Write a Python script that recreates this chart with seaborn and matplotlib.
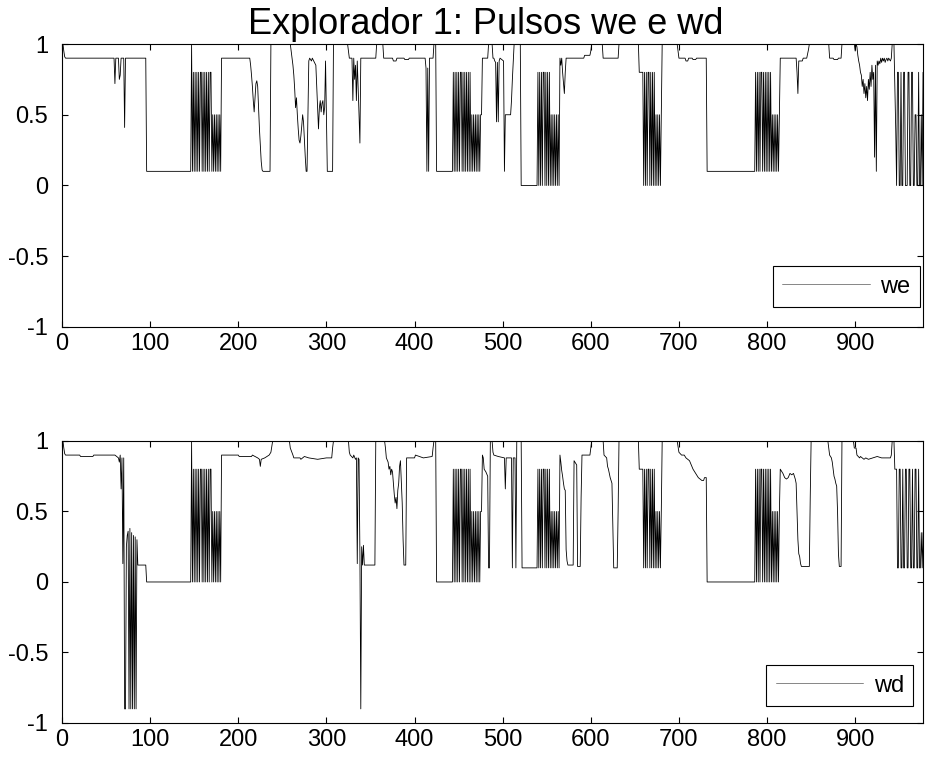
import matplotlib
matplotlib.use("Agg")
import matplotlib.pyplot as plt
import pandas as pd
import seaborn as sns

# (sample, value) breakpoints of the left-wheel pulse signal "we"
we_points = [
    (0, 1.0), (1, 1.0), (2, 0.95), (3, 0.91), (4, 0.9), (59, 0.9), (60, 0.72), (61, 0.9), (64, 0.9),
    (65, 0.75), (66, 0.78), (67, 0.9), (70, 0.9), (71, 0.41), (72, 0.9), (95, 0.9),
    (96, 0.1), (146, 0.1), (147, 1.0),
    (148, 0.1), (149, 0.8), (150, 0.1), (151, 0.8), (152, 0.1), (153, 0.8), (154, 0.1), (155, 0.8),
    (156, 0.1), (157, 0.8), (158, 0.8), (159, 0.1), (160, 0.8), (161, 0.1), (162, 0.8), (163, 0.1),
    (164, 0.8), (165, 0.1), (166, 0.8), (167, 0.1), (168, 0.8), (169, 0.8), (170, 0.1),
    (171, 0.5), (172, 0.1), (173, 0.5), (174, 0.1), (175, 0.5), (176, 0.1), (177, 0.5), (178, 0.1),
    (179, 0.5), (180, 0.1),
    (181, 0.9), (213, 0.9), (214, 0.85), (215, 0.78), (216, 0.7), (217, 0.6), (218, 0.52), (219, 0.62),
    (220, 0.72), (221, 0.74), (222, 0.7), (223, 0.55), (224, 0.4), (225, 0.28), (226, 0.17), (227, 0.11),
    (228, 0.1), (236, 0.1),
    (237, 1.0), (259, 1.0), (260, 0.95), (261, 0.9), (262, 0.85), (263, 0.78), (264, 0.68), (265, 0.55),
    (266, 0.62), (267, 0.5), (268, 0.4), (269, 0.32), (270, 0.3), (271, 0.35), (272, 0.42), (273, 0.5),
    (274, 0.45), (275, 0.32), (276, 0.2), (277, 0.1), (278, 0.1), (279, 0.5), (280, 0.88), (281, 0.9),
    (283, 0.88), (284, 0.9), (288, 0.85), (289, 0.7), (290, 0.55), (291, 0.4), (292, 0.55), (293, 0.6),
    (294, 0.52), (295, 0.58), (296, 0.6), (297, 0.5), (298, 0.55), (299, 0.88), (300, 0.5), (301, 0.1),
    (307, 0.1),
    (308, 1.0), (324, 1.0), (325, 0.95), (326, 0.9), (329, 0.9), (330, 0.6), (331, 0.9), (332, 0.75),
    (333, 0.85), (334, 0.6), (335, 0.88), (336, 0.7), (337, 0.5), (338, 0.3), (339, 0.9), (356, 0.9),
    (357, 1.0), (364, 1.0),
    (365, 0.9), (375, 0.9), (376, 0.88), (379, 0.88), (380, 0.9), (388, 0.9), (389, 0.89), (393, 0.89),
    (394, 0.9), (412, 0.9), (413, 0.83), (414, 0.1), (415, 0.83), (416, 0.1), (417, 0.9), (421, 0.9),
    (422, 1.0), (424, 1.0),
    (425, 0.1), (443, 0.1),
    (444, 0.8), (445, 0.1), (446, 0.8), (447, 0.1), (448, 0.8), (449, 0.1), (450, 0.8), (451, 0.1),
    (452, 0.8), (453, 0.8), (454, 0.1), (455, 0.8), (456, 0.1), (457, 0.8), (458, 0.1), (459, 0.8),
    (460, 0.1), (461, 0.8), (462, 0.1), (463, 0.8), (464, 0.1),
    (465, 0.5), (466, 0.1), (467, 0.5), (468, 0.1), (469, 0.5), (470, 0.1), (471, 0.5), (472, 0.1),
    (473, 0.5), (474, 0.1), (475, 0.5), (476, 0.5),
    (477, 0.9), (483, 0.9), (484, 1.0), (488, 1.0), (489, 0.9), (490, 0.9), (491, 0.88), (492, 0.87),
    (493, 0.45), (494, 0.87), (495, 0.45), (496, 0.88), (497, 0.9), (501, 0.88), (502, 0.1), (503, 0.5),
    (509, 0.5), (510, 0.6), (511, 0.75), (512, 0.88), (513, 1.0), (520, 1.0),
    (521, 0.0), (539, 0.0),
    (540, 0.8), (541, 0.0), (542, 0.8), (543, 0.0), (544, 0.8), (545, 0.0), (546, 0.8), (547, 0.8),
    (548, 0.0), (549, 0.8), (550, 0.0), (551, 0.8), (552, 0.0), (553, 0.8), (554, 0.0),
    (555, 0.5), (556, 0.0), (557, 0.5), (558, 0.0), (559, 0.5), (560, 0.0), (561, 0.5), (562, 0.0),
    (563, 0.5), (564, 0.0),
    (565, 0.9), (566, 0.85), (567, 0.9), (568, 0.8), (569, 0.72), (570, 0.65), (571, 0.8), (572, 0.9),
    (592, 0.9), (593, 0.92), (599, 0.92), (600, 0.95), (601, 1.0), (613, 1.0), (614, 0.9), (631, 0.9),
    (632, 1.0), (654, 1.0), (655, 0.8), (659, 0.8),
    (660, 0.0), (661, 0.8), (662, 0.0), (663, 0.8), (664, 0.0), (665, 0.8), (666, 0.8), (667, 0.0),
    (668, 0.8), (669, 0.0), (670, 0.8), (671, 0.0), (672, 0.8),
    (673, 0.0), (674, 0.5), (675, 0.0), (676, 0.5), (677, 0.0), (678, 0.5), (679, 0.0), (680, 0.5),
    (681, 1.0), (698, 1.0), (699, 0.95), (700, 0.9), (707, 0.9), (708, 0.88), (710, 0.88), (711, 0.9),
    (715, 0.9), (716, 0.89), (719, 0.89), (720, 0.9), (731, 0.9),
    (732, 0.1), (786, 0.1),
    (787, 0.8), (788, 0.1), (789, 0.8), (790, 0.1), (791, 0.8), (792, 0.1), (793, 0.8), (794, 0.8),
    (795, 0.1), (796, 0.8), (797, 0.1), (798, 0.8), (799, 0.1), (800, 0.8), (801, 0.1), (802, 0.8),
    (803, 0.1), (804, 0.8), (805, 0.1),
    (806, 0.5), (807, 0.1), (808, 0.5), (809, 0.1), (810, 0.5), (811, 0.1), (812, 0.5), (813, 0.1),
    (814, 0.5),
    (815, 0.9), (833, 0.9), (834, 0.8), (835, 0.65), (836, 0.88), (840, 0.88), (841, 0.9), (845, 0.9),
    (846, 0.93), (847, 0.96), (848, 1.0), (870, 1.0), (871, 0.9), (875, 0.9), (876, 0.89), (880, 0.89),
    (881, 0.9), (884, 0.9), (885, 1.0), (899, 1.0), (900, 0.95), (901, 1.0),
    (902, 0.98), (903, 0.92), (904, 0.88), (905, 0.85), (906, 0.8), (907, 0.78), (908, 0.7), (909, 0.75),
    (910, 0.65), (911, 0.72), (912, 0.62), (913, 0.7), (914, 0.6), (915, 0.75), (916, 0.68), (917, 0.8),
    (918, 0.7), (919, 0.85), (920, 0.75), (921, 0.8), (922, 0.2), (923, 0.85), (924, 0.1), (925, 0.88),
    (926, 0.85), (927, 0.88), (928, 0.86), (929, 0.9), (930, 0.87), (931, 0.9), (932, 0.88), (933, 0.9),
    (934, 0.87), (935, 0.89), (936, 0.9), (937, 0.88), (938, 0.9), (940, 0.88), (941, 0.9),
    (942, 1.0), (944, 1.0), (945, 0.7), (946, 0.4), (947, 0.0),
    (948, 0.8), (949, 0.8), (950, 0.0), (951, 0.0), (952, 0.8), (953, 0.0), (954, 0.0), (955, 0.8),
    (956, 0.8), (957, 0.0), (959, 0.0), (960, 0.8), (961, 0.8), (962, 0.0), (963, 0.0), (964, 0.8),
    (965, 0.8), (966, 0.0), (967, 0.0), (968, 0.5), (969, 0.5), (970, 0.0), (971, 0.0), (972, 0.8),
    (973, 0.0), (974, 0.0), (975, 0.5), (976, 0.0), (977, 0.8),
]

# (sample, value) breakpoints of the right-wheel pulse signal "wd"
wd_points = [
    (0, 1.0), (1, 1.0), (2, 0.95), (3, 0.91), (4, 0.9), (20, 0.9), (21, 0.89), (35, 0.89), (36, 0.9),
    (60, 0.9), (62, 0.89), (64, 0.88), (65, 0.85), (66, 0.9), (67, 0.66), (68, 0.88), (69, 0.13),
    (70, 0.88), (71, -0.9), (72, -0.9), (73, 0.25), (74, 0.33), (75, 0.36), (76, -0.9), (77, 0.38),
    (78, -0.9), (79, 0.35), (80, -0.9), (81, 0.33), (82, -0.9), (83, 0.32), (84, -0.9), (85, 0.3),
    (86, 0.12), (95, 0.12),
    (96, 0.0), (146, 0.0), (147, 1.0),
    (148, 0.0), (149, 0.8), (150, 0.0), (151, 0.8), (152, 0.0), (153, 0.8), (154, 0.0), (155, 0.8),
    (156, 0.0), (157, 0.8), (158, 0.8), (159, 0.0), (160, 0.8), (161, 0.0), (162, 0.8), (163, 0.0),
    (164, 0.8), (165, 0.0), (166, 0.8), (167, 0.0), (168, 0.8), (169, 0.8), (170, 0.0),
    (171, 0.5), (172, 0.0), (173, 0.5), (174, 0.0), (175, 0.5), (176, 0.0), (177, 0.5), (178, 0.0),
    (179, 0.5), (180, 0.0),
    (181, 0.9), (200, 0.9), (201, 0.89), (215, 0.89), (216, 0.9), (222, 0.88), (224, 0.87), (225, 0.82),
    (226, 0.87), (230, 0.88), (235, 0.9), (237, 0.92), (238, 0.96), (239, 1.0), (258, 1.0), (259, 0.95),
    (262, 0.9), (263, 0.88), (270, 0.88), (271, 0.87), (275, 0.89), (280, 0.88), (290, 0.87),
    (300, 0.88), (306, 0.88), (307, 0.95), (308, 1.0), (324, 1.0),
    (325, 1.0), (326, 0.92), (327, 0.9), (330, 0.88), (331, 0.9), (333, 0.87), (334, 0.88), (335, 0.13),
    (336, 0.88), (337, 0.87), (338, 0.2), (339, -0.9), (340, 0.25), (341, 0.12), (342, 0.26), (343, 0.12),
    (355, 0.12), (356, 1.0), (366, 1.0),
    (367, 0.95), (368, 0.88), (370, 0.85), (371, 0.8), (372, 0.82), (373, 0.76), (374, 0.8), (375, 0.78),
    (376, 0.7), (377, 0.62), (378, 0.56), (379, 0.6), (380, 0.52), (381, 0.65), (382, 0.7), (383, 0.82),
    (384, 0.86), (385, 0.7), (386, 0.56), (387, 0.3), (388, 0.12), (390, 0.12), (391, 0.88), (400, 0.88),
    (401, 0.9), (410, 0.88), (420, 0.89), (421, 0.95), (422, 1.0), (424, 1.0),
    (425, 0.0), (443, 0.0),
    (444, 0.8), (445, 0.0), (446, 0.8), (447, 0.0), (448, 0.8), (449, 0.0), (450, 0.8), (451, 0.0),
    (452, 0.8), (453, 0.8), (454, 0.0), (455, 0.8), (456, 0.0), (457, 0.8), (458, 0.0), (459, 0.8),
    (460, 0.0), (461, 0.8), (462, 0.0), (463, 0.8), (464, 0.0),
    (465, 0.5), (466, 0.0), (467, 0.5), (468, 0.0), (469, 0.5), (470, 0.0), (471, 0.5), (472, 0.0),
    (473, 0.5), (474, 0.0), (475, 0.5), (476, 0.5),
    (477, 0.9), (478, 0.88), (479, 0.8), (481, 0.78), (483, 0.75), (484, 0.1), (485, 0.1), (486, 1.0),
    (488, 1.0), (489, 0.92), (490, 0.9), (495, 0.89), (502, 0.88), (503, 0.66), (504, 0.88), (510, 0.88),
    (511, 0.1), (512, 0.88), (514, 0.88), (515, 0.1), (516, 1.0), (521, 1.0),
    (522, 0.1), (539, 0.1),
    (540, 0.8), (541, 0.1), (542, 0.8), (543, 0.1), (544, 0.8), (545, 0.1), (546, 0.8), (547, 0.8),
    (548, 0.1), (549, 0.8), (550, 0.1), (551, 0.8), (552, 0.1), (553, 0.8), (554, 0.1),
    (555, 0.5), (556, 0.1), (557, 0.5), (558, 0.1), (559, 0.5), (560, 0.1), (561, 0.5), (562, 0.1),
    (563, 0.5), (564, 0.1),
    (565, 0.9), (566, 0.85), (567, 0.79), (568, 0.75), (569, 0.7), (570, 0.66), (571, 0.65), (572, 0.23),
    (573, 0.15), (574, 0.12), (580, 0.12), (581, 0.86), (582, 0.85), (583, 0.84), (584, 0.83), (585, 0.11),
    (588, 0.11), (589, 0.6), (590, 0.9), (599, 0.9), (600, 0.95), (601, 1.0), (614, 1.0),
    (615, 0.9), (618, 0.88), (619, 0.82), (620, 0.8), (621, 0.77), (622, 0.74), (623, 0.72), (624, 0.7),
    (625, 0.4), (626, 0.1), (630, 0.1), (631, 0.5), (632, 1.0), (654, 1.0), (655, 0.8), (659, 0.8),
    (660, 0.1), (661, 0.8), (662, 0.1), (663, 0.8), (664, 0.1), (665, 0.8), (666, 0.8), (667, 0.1),
    (668, 0.8), (669, 0.1), (670, 0.8), (671, 0.1), (672, 0.8),
    (673, 0.1), (674, 0.5), (675, 0.1), (676, 0.5), (677, 0.1), (678, 0.5), (679, 0.1), (680, 0.5),
    (681, 1.0), (698, 1.0), (700, 0.92), (703, 0.9), (706, 0.9), (708, 0.88), (710, 0.87), (712, 0.86),
    (714, 0.83), (716, 0.8), (718, 0.78), (720, 0.76), (722, 0.74), (724, 0.73), (726, 0.72), (728, 0.72),
    (729, 0.74), (731, 0.74),
    (732, 0.0), (786, 0.0),
    (787, 0.8), (788, 0.0), (789, 0.8), (790, 0.0), (791, 0.8), (792, 0.0), (793, 0.8), (794, 0.8),
    (795, 0.0), (796, 0.8), (797, 0.0), (798, 0.8), (799, 0.0), (800, 0.8), (801, 0.0), (802, 0.8),
    (803, 0.0), (804, 0.8), (805, 0.0),
    (806, 0.5), (807, 0.0), (808, 0.5), (809, 0.0), (810, 0.5), (811, 0.0), (812, 0.5), (813, 0.0),
    (814, 0.5),
    (815, 0.8), (816, 0.79), (818, 0.77), (820, 0.74), (822, 0.73), (824, 0.74), (826, 0.77), (828, 0.76),
    (830, 0.77), (832, 0.73), (833, 0.7), (834, 0.5), (835, 0.3), (836, 0.2), (837, 0.18), (838, 0.13),
    (839, 0.11), (848, 0.11), (849, 0.6), (850, 1.0), (869, 1.0), (870, 0.95), (871, 0.9), (873, 0.88),
    (874, 0.85), (875, 0.8), (876, 0.75), (877, 0.73), (878, 0.7), (879, 0.68), (880, 0.5), (881, 0.2),
    (882, 0.11), (884, 0.11), (885, 1.0), (898, 1.0), (899, 0.95), (901, 0.95), (902, 0.9), (905, 0.88),
    (906, 0.89), (910, 0.87), (912, 0.88), (915, 0.87), (920, 0.88), (925, 0.89), (930, 0.88),
    (940, 0.88), (941, 0.9), (942, 1.0), (944, 1.0), (945, 0.8), (947, 0.8),
    (948, 0.1), (949, 0.1), (950, 0.8), (951, 0.8), (952, 0.1), (953, 0.1), (954, 0.8), (955, 0.1),
    (956, 0.1), (957, 0.8), (958, 0.8), (959, 0.1), (960, 0.1), (961, 0.8), (962, 0.8), (963, 0.1),
    (964, 0.1), (965, 0.8), (966, 0.1), (967, 0.1), (968, 0.8), (969, 0.8), (970, 0.1), (971, 0.1),
    (972, 0.8), (973, 0.1), (974, 0.1), (975, 0.35), (976, 0.1), (977, 0.35),
]

series_names = ["we", "wd"]
title_text = "Explorador 1: Pulsos we e wd"
x_ticks = [0, 100, 200, 300, 400, 500, 600, 700, 800, 900]
x_tick_labels = ["0", "100", "200", "300", "400", "500", "600", "700", "800", "900"]
y_ticks = [-1, -0.5, 0, 0.5, 1]
y_tick_labels = ["-1", "-0.5", "0", "0.5", "1"]

sns.set_style("ticks")
plt.rcParams["font.family"] = ["Liberation Sans", "DejaVu Sans"]
plt.rcParams["axes.unicode_minus"] = False
plt.rcParams["text.color"] = "black"

fig = plt.figure(figsize=(9.26, 7.64), dpi=100)
ax_top = fig.add_axes([0.0670, 0.5720, 0.9298, 0.3704])
ax_bot = fig.add_axes([0.0670, 0.0537, 0.9298, 0.3691])

panels = [
    (ax_top, we_points, series_names[0], (0.9965, 0.0707)),
    (ax_bot, wd_points, series_names[1], (0.9887, 0.0603)),
]

for ax, pts, name, anchor in panels:
    df = pd.DataFrame(pts, columns=["muestra", "valor"])
    sns.lineplot(data=df, x="muestra", y="valor", ax=ax, color="black",
                 linewidth=0.6, estimator=None, sort=False, label=name)
    ax.set_xlim(0, 977)
    ax.set_ylim(-1, 1)
    ax.set_xticks(x_ticks)
    ax.set_xticklabels(x_tick_labels)
    ax.set_yticks(y_ticks)
    ax.set_yticklabels(y_tick_labels)
    ax.set_xlabel("")
    ax.set_ylabel("")
    ax.tick_params(direction="in", top=True, right=True, length=4, width=0.8,
                   labelsize=17, colors="black")
    ax.tick_params(axis="y", pad=10)
    ax.tick_params(axis="x", pad=4)
    for side in ["left", "right", "top", "bottom"]:
        ax.spines[side].set_visible(True)
        ax.spines[side].set_color("black")
        ax.spines[side].set_linewidth(0.8)
    leg = ax.legend(loc="lower right", bbox_to_anchor=anchor, fontsize=17,
                    frameon=True, fancybox=False, framealpha=1, edgecolor="black",
                    handlelength=3.7, handletextpad=0.45, borderpad=0.4,
                    borderaxespad=0, labelcolor="black")
    leg.get_frame().set_linewidth(0.8)
    for handle in leg.get_lines():
        handle.set_color("0.45")

ax_top.set_title(title_text, fontsize=26, pad=7, x=0.4925, color="black")

fig.savefig("out.png", dpi=100)
